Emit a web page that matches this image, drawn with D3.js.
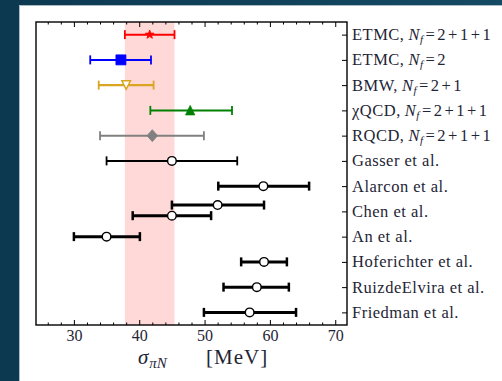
<!DOCTYPE html>
<html>
<head>
<meta charset="utf-8">
<script src="https://cdn.jsdelivr.net/npm/d3@7"></script>
<style>
  html, body { margin: 0; padding: 0; background: #12435c; }
  svg { display: block; }
  text { font-family: "Liberation Serif", "DejaVu Serif", serif; fill: #1e2536; }
</style>
</head>
<body>
<svg width="502" height="381"></svg>
<script>
// row labels (top to bottom); nf is the N_f subscript text when present
var rowNames = ['ETMC,', 'ETMC,', 'BMW,', '\u03c7QCD,', 'RQCD,', 'Gasser et al.', 'Alarcon et al.',
    'Chen et al.', 'An et al.', 'Hoferichter et al.', 'RuizdeElvira et al.', 'Friedman et al.'];
var rowNf = ['2+1+1', '2', '2+1', '2+1+1', '2+1+1', null, null, null, null, null, null, null];

// one entry per error bar
var entryRow = [0, 1, 2, 3, 4, 5, 6, 7, 7, 8, 9, 10, 11];
var entryValue = [41.6, 37.2, 38.0, 47.8, 42.0, 45.0, 59.0, 52.0, 45.0, 35.0, 59.1, 58.0, 56.9];
var entryLow = [37.8, 32.5, 33.8, 41.7, 34.0, 35.0, 52.1, 45.0, 39.0, 30.0, 55.6, 52.9, 49.9];
var entryHigh = [45.4, 41.8, 42.2, 54.2, 49.9, 55.0, 66.0, 59.1, 51.0, 40.1, 62.6, 62.9, 64.0];
var entryShift = [0, 0, 0, 0, 0, 0, 0, -0.25, 0.17, 0, 0, 0, 0];

// ETMC Nf=2+1+1 band
var bandLow = 37.8;
var bandHigh = 45.4;

var xTicks = [30, 40, 50, 60, 70];

// styles for each entry
var entryColor = ['#ff0000', '#0000ff', '#daa520', '#008000', '#808080',
    '#000', '#000', '#000', '#000', '#000', '#000', '#000', '#000'];
var entryMarker = ['star', 'square', 'tridown', 'triup', 'diamond',
    'circle', 'circle', 'circle', 'circle', 'circle', 'circle', 'circle', 'circle'];
var entryWidth = [2, 2, 2.2, 2, 2, 2, 3, 3, 3, 3, 3, 3, 3];

var svg = d3.select('svg');
var W = 502, H = 381;
var margin = { left: 36, right: 347, top: 22, bottom: 325 };

// background + panel
var defs = svg.append('defs');
var grad = defs.append('linearGradient').attr('id', 'bg')
    .attr('x1', 0).attr('y1', 0).attr('x2', 1).attr('y2', 0);
grad.append('stop').attr('offset', '0%').attr('stop-color', '#0c3850');
grad.append('stop').attr('offset', '100%').attr('stop-color', '#154a63');
svg.append('rect').attr('width', W).attr('height', H).attr('fill', 'url(#bg)');
svg.append('rect').attr('x', 19.5).attr('y', 5.5).attr('width', W).attr('height', H)
    .attr('fill', '#fff').attr('stroke', '#a9bcc6').attr('stroke-width', 1);

var x = d3.scaleLinear().domain([24.2, 71.8]).range([margin.left, margin.right]);
var y = d3.scalePoint().domain(d3.range(rowNames.length)).range([margin.top, margin.bottom]).padding(0.5);
var step = y.step();

// band
svg.append('rect')
    .attr('x', x(bandLow)).attr('y', margin.top)
    .attr('width', x(bandHigh) - x(bandLow)).attr('height', margin.bottom - margin.top)
    .attr('fill', '#ffd8d8');

// x ticks, inward, bottom and top
var minor = d3.range(26, 71, 2).filter(function (v) { return xTicks.indexOf(v) < 0; });
var bottomAxis = d3.axisBottom(x).tickValues(xTicks).tickSize(-5).tickPadding(5);
var bottomMinor = d3.axisBottom(x).tickValues(minor).tickSize(-2.5).tickFormat('');
var topAxis = d3.axisTop(x).tickValues(xTicks).tickSize(-5).tickFormat('');
var topMinor = d3.axisTop(x).tickValues(minor).tickSize(-2.5).tickFormat('');

function styleAxis(g) {
    g.select('.domain').remove();
    g.selectAll('line').attr('stroke', '#000').attr('stroke-width', 1);
    g.selectAll('text').attr('font-size', 16).attr('font-family', '"Liberation Serif", serif').attr('fill', '#1e2536');
}
svg.append('g').attr('transform', 'translate(0,' + margin.bottom + ')').call(bottomAxis).call(styleAxis);
svg.append('g').attr('transform', 'translate(0,' + margin.bottom + ')').call(bottomMinor).call(styleAxis);
svg.append('g').attr('transform', 'translate(0,' + margin.top + ')').call(topAxis).call(styleAxis);
svg.append('g').attr('transform', 'translate(0,' + margin.top + ')').call(topMinor).call(styleAxis);

// right axis ticks, inward
var rightAxis = d3.axisRight(y).tickSize(-5).tickFormat('');
svg.append('g').attr('transform', 'translate(' + margin.right + ',0)').call(rightAxis).call(styleAxis);

// labels
var lab = svg.append('g').selectAll('text')
    .data(rowNames)
    .enter()
    .append('text')
    .attr('x', margin.right + 5)
    .attr('y', function (d, i) { return y(i) + 5.5; })
    .attr('font-size', 16.5)
    .attr('letter-spacing', 0.5);
lab.append('tspan').text(function (d) { return d; });
lab.each(function (d, i) {
    if (!rowNf[i]) return;
    var t = d3.select(this);
    t.append('tspan').attr('font-style', 'italic').attr('dx', 4).text('N');
    t.append('tspan').attr('font-style', 'italic').attr('font-size', 11).attr('dy', 3).text('f');
    // math-style spacing around = and +
    var parts = ('=' + rowNf[i]).split(/([=+])/).filter(function (s) { return s !== ''; });
    parts.forEach(function (p, k) {
        var sp = t.append('tspan').text(p).attr('dx', 2);
        if (k === 0) sp.attr('dy', -3);
    });
});

// frame
svg.append('rect')
    .attr('x', margin.left).attr('y', margin.top)
    .attr('width', margin.right - margin.left).attr('height', margin.bottom - margin.top)
    .attr('fill', 'none').attr('stroke', '#000').attr('stroke-width', 1.4);

// error bars
var entries = entryRow.map(function (r, i) {
    return { row: r, v: entryValue[i], lo: entryLow[i], hi: entryHigh[i], shift: entryShift[i],
        color: entryColor[i], marker: entryMarker[i], w: entryWidth[i] };
});

var bars = svg.append('g').selectAll('g')
    .data(entries)
    .enter()
    .append('g')
    .attr('transform', function (d) { return 'translate(0,' + (y(d.row) + d.shift * step) + ')'; });

bars.append('line')
    .attr('x1', function (d) { return x(d.lo); })
    .attr('x2', function (d) { return x(d.hi); })
    .attr('stroke', function (d) { return d.color; })
    .attr('stroke-width', function (d) { return d.w; });

['lo', 'hi'].forEach(function (k) {
    bars.append('line')
        .attr('x1', function (d) { return x(d[k]); })
        .attr('x2', function (d) { return x(d[k]); })
        .attr('y1', -4.5).attr('y2', 4.5)
        .attr('stroke', function (d) { return d.color; })
        .attr('stroke-width', function (d) { return d.w === 3 ? 2.5 : 1.8; });
});

function starPath(ro, ri) {
    var pts = [];
    for (var k = 0; k < 10; k++) {
        var r = k % 2 === 0 ? ro : ri;
        var a = -Math.PI / 2 + k * Math.PI / 5;
        pts.push([r * Math.cos(a), r * Math.sin(a)]);
    }
    return d3.line()(pts) + 'Z';
}

var markerPath = {
    star: starPath(4.6, 1.9),
    square: 'M-5,-5H5V5H-5Z',
    tridown: 'M-4.3,-4.3L4.3,-4.3L0,4.3Z',
    triup: 'M0,-5L4.6,4.5L-4.6,4.5Z',
    diamond: 'M0,-6L5.3,0L0,6L-5.3,0Z'
};

bars.each(function (d) {
    var g = d3.select(this);
    if (d.marker === 'circle') {
        g.append('circle').attr('cx', x(d.v)).attr('r', 4.3)
            .attr('fill', '#fff').attr('stroke', '#000').attr('stroke-width', 1.4);
    } else if (d.marker === 'tridown') {
        g.append('path').attr('d', markerPath[d.marker])
            .attr('transform', 'translate(' + x(d.v) + ',0)')
            .attr('fill', '#fff').attr('stroke', d.color).attr('stroke-width', 1.5);
    } else {
        g.append('path').attr('d', markerPath[d.marker])
            .attr('transform', 'translate(' + x(d.v) + ',0)')
            .attr('fill', d.color).attr('stroke', d.color).attr('stroke-width', 0.8);
    }
});

// x title
var title = svg.append('text')
    .attr('y', 364)
    .attr('font-size', 21);
title.append('tspan').attr('x', 138).attr('font-style', 'italic').text('\u03c3');
title.append('tspan').attr('font-style', 'italic').attr('font-size', 15).attr('dy', 4).attr('dx', 1).text('\u03c0N');
title.append('tspan').attr('x', 206).attr('dy', -4).attr('letter-spacing', 1).text('[MeV]');
</script>
</body>
</html>
